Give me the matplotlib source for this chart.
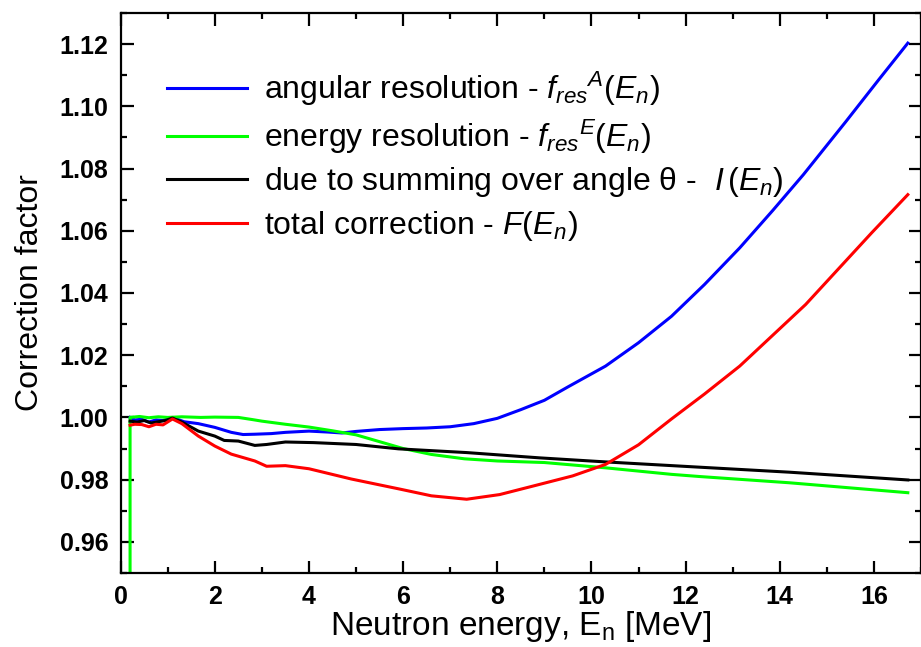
import matplotlib
matplotlib.use('Agg')
import matplotlib.pyplot as plt
from matplotlib.ticker import MultipleLocator

plt.rcParams['font.family'] = ['Liberation Sans', 'DejaVu Sans']
plt.rcParams['mathtext.fontset'] = 'custom'
plt.rcParams['mathtext.rm'] = 'Liberation Sans'
plt.rcParams['mathtext.it'] = 'Liberation Sans:italic'

# angular resolution f_res^A(E_n)
e_ang = [0.2, 0.3, 0.45, 0.6, 0.75, 0.9, 1.1, 1.35, 1.65, 2.0, 2.35, 2.6, 2.85, 3.2, 3.5, 4.0,
         4.4, 4.7, 5.0, 5.5, 6.0, 6.5, 7.0, 7.5, 8.0, 8.5, 9.0, 9.5, 10.3, 11.0, 11.7, 12.4,
         13.15, 13.85, 14.5, 15.4, 16.1, 16.72]
f_ang = [1.0, 0.9992, 0.9994, 0.9985, 0.9992, 0.9990, 1.0, 0.9986, 0.998, 0.9968, 0.9952, 0.9945,
         0.9946, 0.9948, 0.9952, 0.9956, 0.9953, 0.9950, 0.9955, 0.9961, 0.9964, 0.9966, 0.9970,
         0.9980, 0.9997, 1.0025, 1.0055, 1.0098, 1.0165, 1.0240, 1.0325, 1.0427, 1.0545, 1.0665,
         1.0780, 1.0950, 1.1085, 1.1203]

# energy resolution f_res^E(E_n)
e_en = [0.2, 0.2, 0.4, 0.6, 0.8, 1.0, 1.3, 1.7, 2.0, 2.5, 2.8, 3.0, 3.5, 4.0, 4.5, 5.0, 5.5,
        6.0, 6.6, 7.3, 8.0, 9.0, 10.3, 11.7, 12.3, 14.2, 16.72]
f_en = [0.94, 1.0, 1.0003, 0.9999, 1.0002, 1.0, 1.0002, 1.0, 1.0001, 1.0, 0.9993, 0.9988, 0.9978,
        0.9969, 0.9957, 0.9944, 0.9922, 0.9900, 0.9881, 0.9867, 0.9860, 0.9855, 0.9838, 0.9817,
        0.9810, 0.9790, 0.9758]

# summing over angle I(E_n)
e_sum = [0.2, 0.35, 0.5, 0.65, 0.8, 0.95, 1.1, 1.3, 1.65, 2.0, 2.2, 2.5, 2.85, 3.1, 3.5, 4.1,
         5.0, 5.9, 7.35, 8.9, 10.3, 12.3, 14.2, 16.72]
f_sum = [0.9988, 0.9985, 0.999, 0.9982, 0.9986, 0.9990, 0.9998, 0.9985, 0.9956, 0.994, 0.9926,
         0.9924, 0.991, 0.9913, 0.9921, 0.9919, 0.9913, 0.9899, 0.9887, 0.9870, 0.9857, 0.9840,
         0.9824, 0.9799]

# total correction F(E_n)
e_tot = [0.2, 0.3, 0.45, 0.6, 0.75, 0.9, 1.1, 1.3, 1.65, 2.0, 2.35, 2.85, 3.1, 3.5, 4.0, 4.9,
         5.6, 5.95, 6.6, 7.35, 8.05, 8.75, 9.6, 10.3, 11.0, 11.7, 12.4, 13.15, 14.55, 15.95, 16.72]
f_tot = [0.9975, 0.9978, 0.9977, 0.997, 0.9978, 0.9976, 0.9995, 0.998, 0.994, 0.9908, 0.9882,
         0.986, 0.9843, 0.9845, 0.9835, 0.9802, 0.978, 0.9769, 0.9748, 0.9737, 0.9752, 0.9779,
         0.9812, 0.9849, 0.9912, 0.9995, 1.0075, 1.0165, 1.0363, 1.0593, 1.0716]

labels = [r'angular resolution - $\mathit{f_{res}{}^{A}(E_n)}$',
          r'energy resolution - $\mathit{f_{res}{}^{E}(E_n)}$',
          r'due to summing over angle θ -  $\mathit{I\,(E_n)}$',
          r'total correction - $\mathit{F(E_n)}$']
colors = ['#0000ff', '#00ff00', '#000000', '#ff0000']

fig = plt.figure(figsize=(9.21, 6.47), dpi=100)
ax = fig.add_axes([0.131, 0.1144, 0.869, 0.8656])

lw = 2.2
ax.plot(e_ang, f_ang, color=colors[0], lw=lw, label=labels[0])
ax.plot(e_en, f_en, color=colors[1], lw=lw, label=labels[1])
ax.plot(e_sum, f_sum, color=colors[2], lw=lw, label=labels[2])
ax.plot(e_tot, f_tot, color=colors[3], lw=lw, label=labels[3])

ax.set_xlim(0, 17)
ax.set_ylim(0.95, 1.13)
ax.xaxis.set_major_locator(MultipleLocator(2))
ax.xaxis.set_minor_locator(MultipleLocator(1))
ax.yaxis.set_minor_locator(MultipleLocator(0.01))
ax.set_yticks([0.96, 0.98, 1.00, 1.02, 1.04, 1.06, 1.08, 1.10, 1.12])
ax.set_yticklabels(['0.96', '0.98', '1.00', '1.02', '1.04', '1.06', '1.08', '1.10', '1.12'])

ax.tick_params(which='both', direction='in', top=True, right=True, width=1.6)
ax.tick_params(which='major', length=9, labelsize=18, pad=9)
ax.tick_params(which='minor', length=4.5)
for t in ax.get_xticklabels() + ax.get_yticklabels():
    t.set_fontweight('bold')
for s in ax.spines.values():
    s.set_linewidth(1.6)

ax.set_xlabel(r'Neutron energy, E$_\mathregular{n}$ [MeV]', fontsize=24, labelpad=0)
ax.set_ylabel('Correction factor', fontsize=23, labelpad=10)

ax.legend(loc='upper left', bbox_to_anchor=(0.022, 0.95), frameon=False, fontsize=23,
          handlelength=2.5, handletextpad=0.55, labelspacing=0.3)

fig.savefig('out.png', dpi=100)
